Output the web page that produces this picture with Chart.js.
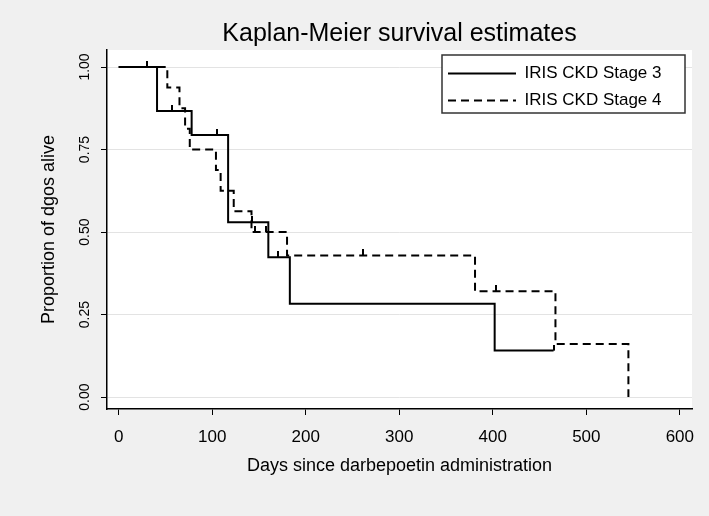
<!DOCTYPE html>
<html>
<head>
<meta charset="utf-8">
<script src="https://cdn.jsdelivr.net/npm/chart.js@4.4.0/dist/chart.umd.min.js"></script>
<style>
  html, body { margin: 0; padding: 0; background: #f0f0f0; }
</style>
</head>
<body>
<canvas id="km" width="709" height="516"></canvas>
<script>
// Kaplan-Meier steps: day of each drop and survival after it
const stage3Days = [0, 41, 78, 117, 160, 183, 402, 465];
const stage3Surv = [1, 0.867, 0.794, 0.53, 0.424, 0.283, 0.141, 0.141];
const stage4Days = [0, 52, 65, 71, 76, 104, 109, 123, 142, 180, 381, 467, 545];
const stage4Surv = [1, 0.938, 0.875, 0.813, 0.75, 0.688, 0.625, 0.563, 0.5, 0.429, 0.321, 0.161, 0];

// censored observations (tick marks)
const stage3CensorDays = [30, 57, 105, 143, 170, 465];
const stage3CensorSurv = [1, 0.867, 0.794, 0.53, 0.424, 0.141];
const stage4CensorDays = [146, 158, 261, 403];
const stage4CensorSurv = [0.5, 0.5, 0.429, 0.321];

const xTicks = [0, 100, 200, 300, 400, 500, 600];
const yTicks = [0, 0.25, 0.5, 0.75, 1];

const FONT = "'Liberation Sans', Arial, sans-serif";

function toPoints(xs, ys) {
  return xs.map((x, i) => ({ x, y: ys[i] }));
}

/** small vertical tick drawn above the point */
function makeTick() {
  const c = document.createElement('canvas');
  c.width = 2;
  c.height = 12;
  const g = c.getContext('2d');
  g.fillStyle = '#000';
  g.fillRect(0, 0, 2, 6);
  return c;
}
const tick = makeTick();

const LEGEND_W = 243;
const LEGEND_H = 58;

const backgrounds = {
  id: 'backgrounds',
  beforeDraw(chart) {
    const { ctx, chartArea: a } = chart;
    ctx.save();
    ctx.fillStyle = '#f0f0f0';
    ctx.fillRect(0, 0, chart.width, chart.height);
    ctx.fillStyle = '#fff';
    ctx.fillRect(a.left, a.top, a.right - a.left, a.bottom - a.top);
    ctx.restore();
  },
};

const legendBox = {
  id: 'legendBox',
  afterLayout(chart) {
    const lg = chart.legend;
    const a = chart.chartArea;
    const boxLeft = a.right - 7 - LEGEND_W;
    lg.left = boxLeft - 4;
    lg.right = lg.left + lg.width;
    lg.top = a.top + 5;
    lg.bottom = a.bottom;
  },
  beforeDatasetsDraw(chart) {
    const { ctx, chartArea: a } = chart;
    const lg = chart.legend;
    const boxLeft = a.right - 7 - LEGEND_W;
    ctx.save();
    ctx.fillStyle = '#fff';
    ctx.fillRect(boxLeft, lg.top, LEGEND_W, LEGEND_H);
    ctx.strokeStyle = '#333';
    ctx.lineWidth = 1.5;
    ctx.strokeRect(boxLeft, lg.top, LEGEND_W, LEGEND_H);
    ctx.restore();
    // legend was painted under the box fill, paint it again on top
    lg.draw(a);
  },
};

function legendLabels(chart) {
  const items = Chart.defaults.plugins.legend.labels.generateLabels(chart);
  return items
    .filter((item) => !!item.text)
    .map((item) => {
      const ds = chart.data.datasets[item.datasetIndex];
      item.lineDash = ds.borderDash || [];
      item.lineWidth = ds.borderWidth;
      item.strokeStyle = ds.borderColor;
      return item;
    });
}

new Chart(document.getElementById('km'), {
  type: 'line',
  data: {
    datasets: [
      {
        label: 'IRIS CKD Stage 3',
        data: toPoints(stage3Days, stage3Surv),
        borderColor: '#000',
        borderWidth: 2,
        stepped: true,
        pointRadius: 0,
        fill: false,
      },
      {
        label: 'IRIS CKD Stage 4',
        data: toPoints(stage4Days, stage4Surv),
        borderColor: '#000',
        borderWidth: 2,
        borderDash: [8, 5],
        stepped: true,
        pointRadius: 0,
        fill: false,
      },
      {
        label: '',
        data: toPoints(stage3CensorDays, stage3CensorSurv),
        showLine: false,
        pointStyle: tick,
        pointRadius: 3,
      },
      {
        label: '',
        data: toPoints(stage4CensorDays, stage4CensorSurv),
        showLine: false,
        pointStyle: tick,
        pointRadius: 3,
      },
    ],
  },
  options: {
    responsive: false,
    animation: false,
    devicePixelRatio: 1,
    layout: { padding: { left: 0, right: 17, top: 0, bottom: 0 } },
    plugins: {
      title: {
        display: true,
        fullSize: false,
        text: 'Kaplan-Meier survival estimates',
        color: '#000',
        font: { family: FONT, size: 25, weight: 'normal' },
        padding: { top: 19, bottom: 1 },
      },
      legend: {
        position: 'chartArea',
        align: 'start',
        labels: {
          usePointStyle: true,
          pointStyle: 'line',
          pointStyleWidth: 68,
          color: '#000',
          padding: 10,
          font: { family: FONT, size: 17 },
          generateLabels: legendLabels,
        },
      },
      tooltip: { enabled: false },
    },
    scales: {
      x: {
        type: 'linear',
        min: -12.5,
        max: 613,
        afterBuildTicks: (s) => { s.ticks = xTicks.map((v) => ({ value: v })); },
        afterFit: (s) => { s.height = 107; },
        grid: { drawOnChartArea: false, drawTicks: true, tickLength: 6, tickColor: '#000', tickWidth: 1 },
        border: { color: '#000', width: 1.5 },
        ticks: { color: '#000', font: { family: FONT, size: 17 }, padding: 12, maxRotation: 0 },
        title: {
          display: true,
          text: 'Days since darbepoetin administration',
          color: '#000',
          font: { family: FONT, size: 18 },
          padding: { top: 4, bottom: 39 },
        },
      },
      y: {
        type: 'linear',
        min: -0.036,
        max: 1.0515,
        afterBuildTicks: (s) => { s.ticks = yTicks.map((v) => ({ value: v })); },
        afterFit: (s) => { s.width = 107; },
        grid: { color: '#e3e3e3', lineWidth: 1, drawTicks: true, tickLength: 6, tickColor: '#000', tickWidth: 1 },
        border: { color: '#000', width: 1.5 },
        ticks: {
          color: '#000',
          font: { family: FONT, size: 14 },
          minRotation: 90,
          maxRotation: 90,
          crossAlign: 'center',
          padding: 2,
          callback: (v) => Number(v).toFixed(2),
        },
        title: {
          display: true,
          text: 'Proportion of dgos alive',
          color: '#000',
          font: { family: FONT, size: 18 },
          padding: { top: 38, bottom: 0 },
        },
      },
    },
  },
  plugins: [backgrounds, legendBox],
});
</script>
</body>
</html>
